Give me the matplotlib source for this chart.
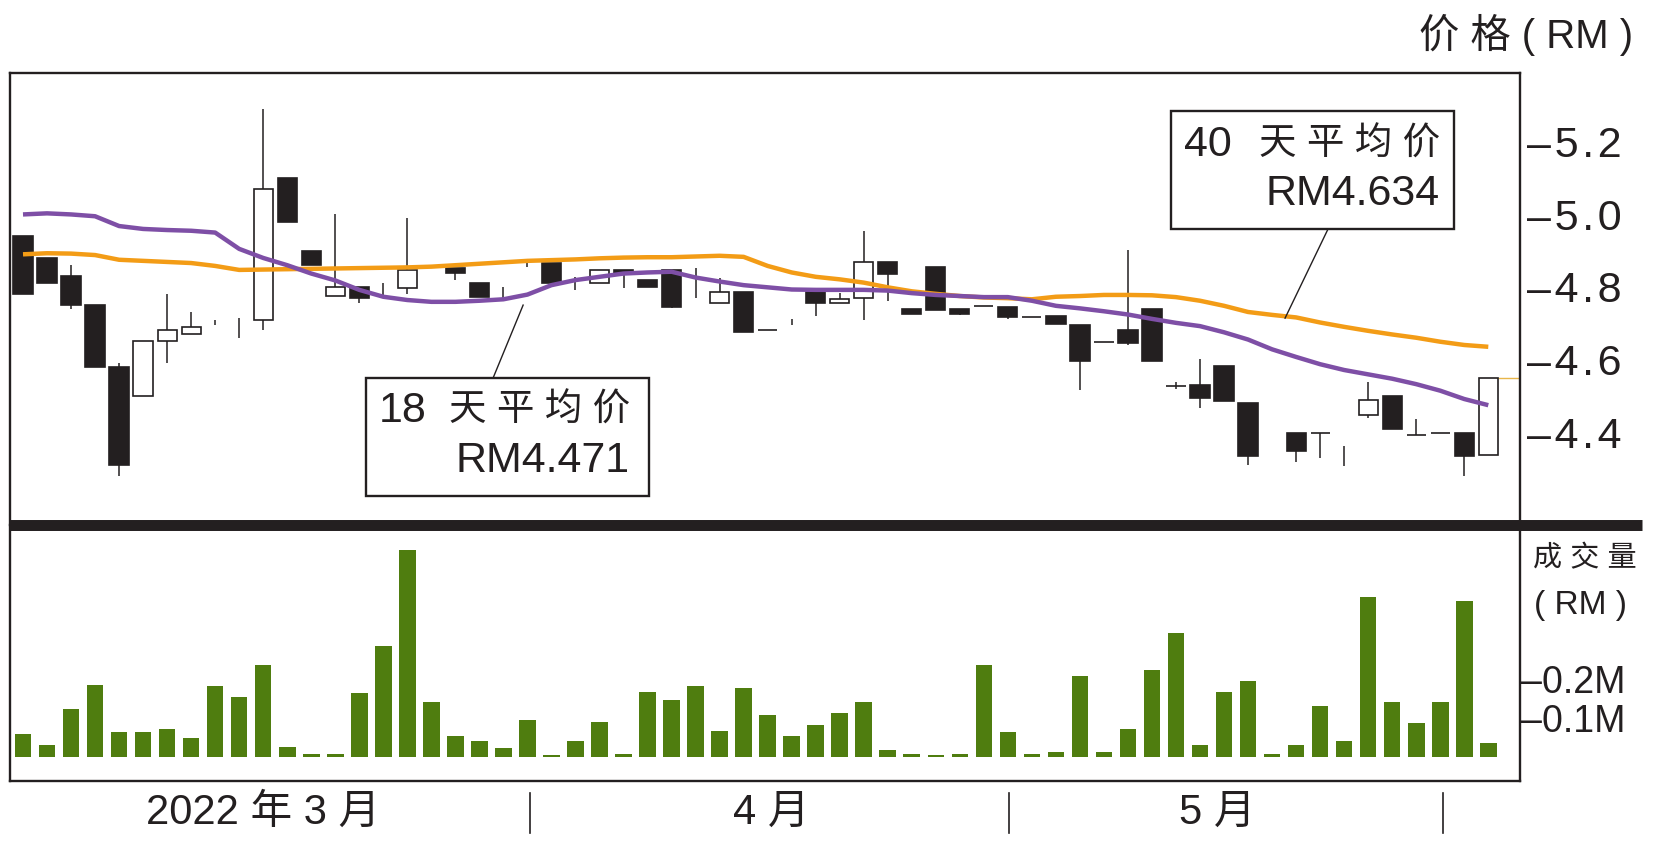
import matplotlib
matplotlib.use('Agg')
import matplotlib.pyplot as plt
import numpy as np
from matplotlib.patches import Rectangle
from matplotlib.lines import Line2D
from matplotlib.transforms import blended_transform_factory

# ---------------- data ----------------
nan = np.nan
# nan open/close with a high/low = only the wick is visible (doji)
opens = [4.94, 4.88, 4.83, 4.75, 4.58, 4.50, 4.65, 4.67, nan, nan,
         4.71, 5.10, 4.90, 4.775, 4.80, nan, 4.796, nan, 4.852, 4.812,
         nan, nan, 4.867, nan, 4.812, 4.848, 4.818, 4.848, nan, 4.756,
         4.786, 4.68, nan, 4.785, 4.756, 4.769, 4.869, 4.738, 4.854, 4.738,
         4.748, 4.746, 4.718, 4.720, 4.694, 4.649, 4.680, 4.738, 4.528, 4.530,
         4.582, 4.481, nan, 4.396, 4.396, nan, 4.447, 4.499, 4.392, 4.396,
         4.396, 4.337]
highs = [4.94, 4.88, 4.86, 4.75, 4.59, 4.65, 4.78, 4.73, 4.71, 4.715,
         5.29, 5.10, 4.90, 5.00, 4.80, 4.81, 4.99, nan, 4.852, 4.812,
         4.80, 4.87, 4.867, 4.828, 4.848, 4.848, 4.818, 4.848, 4.851, 4.824,
         4.786, 4.68, 4.711, 4.785, 4.783, 4.953, 4.869, 4.738, 4.854, 4.738,
         4.748, 4.746, 4.718, 4.720, 4.694, 4.649, 4.902, 4.738, 4.539, 4.600,
         4.582, 4.481, nan, 4.396, 4.396, 4.361, 4.539, 4.499, 4.435, 4.396,
         4.396, 4.548]
lows = [4.78, 4.81, 4.74, 4.58, 4.28, 4.50, 4.59, 4.67, 4.695, 4.66,
        4.68, 4.98, 4.86, 4.775, 4.757, 4.773, 4.78, nan, 4.818, 4.773,
        4.769, 4.855, 4.81, 4.792, 4.812, 4.796, 4.799, 4.741, 4.769, 4.756,
        4.677, 4.68, 4.695, 4.721, 4.756, 4.709, 4.76, 4.726, 4.736, 4.724,
        4.748, 4.711, 4.718, 4.698, 4.516, 4.649, 4.640, 4.597, 4.518, 4.465,
        4.486, 4.309, nan, 4.318, 4.327, 4.306, 4.438, 4.407, 4.392, 4.396,
        4.28, 4.337]
closes = [4.78, 4.81, 4.75, 4.58, 4.31, 4.65, 4.68, 4.69, nan, nan,
          5.07, 4.98, 4.86, 4.80, 4.77, nan, 4.847, nan, 4.838, 4.773,
          nan, nan, 4.81, nan, 4.848, 4.837, 4.80, 4.746, nan, 4.786,
          4.677, 4.68, nan, 4.756, 4.767, 4.869, 4.837, 4.726, 4.736, 4.726,
          4.748, 4.716, 4.718, 4.698, 4.597, 4.649, 4.646, 4.597, 4.528, 4.495,
          4.486, 4.334, nan, 4.348, 4.396, nan, 4.488, 4.407, 4.392, 4.396,
          4.334, 4.548]

ma18 = [5.00, 5.003, 5.00, 4.995, 4.968, 4.96, 4.957, 4.955, 4.95, 4.905,
        4.88, 4.86, 4.837, 4.818, 4.792, 4.773, 4.764, 4.759, 4.759, 4.762,
        4.766, 4.779, 4.805, 4.819, 4.828, 4.837, 4.84, 4.842, 4.826, 4.815,
        4.805, 4.799, 4.793, 4.792, 4.792, 4.792, 4.79, 4.783, 4.778, 4.775,
        4.772, 4.772, 4.762, 4.748, 4.741, 4.733, 4.724, 4.712, 4.701, 4.692,
        4.675, 4.655, 4.628, 4.607, 4.587, 4.571, 4.559, 4.547, 4.532, 4.514,
        4.491, 4.474]
ma40 = [4.890, 4.893, 4.892, 4.888, 4.875, 4.872, 4.869, 4.866, 4.858, 4.847,
        4.848, 4.849, 4.850, 4.851, 4.852, 4.853, 4.854, 4.856, 4.860, 4.864,
        4.868, 4.872, 4.874, 4.876, 4.879, 4.881, 4.882, 4.882, 4.884, 4.886,
        4.883, 4.858, 4.84, 4.828, 4.821, 4.812, 4.799, 4.788, 4.781, 4.775,
        4.771, 4.769, 4.766, 4.773, 4.775, 4.778, 4.778, 4.777, 4.772, 4.762,
        4.748, 4.731, 4.723, 4.716, 4.702, 4.69, 4.679, 4.669, 4.66, 4.649,
        4.64, 4.635]

volume_m = [0.058, 0.030, 0.123, 0.185, 0.063, 0.063, 0.071, 0.049, 0.181, 0.155,
            0.236, 0.026, 0.007, 0.007, 0.163, 0.286, 0.533, 0.142, 0.053, 0.040,
            0.022, 0.095, 0.004, 0.040, 0.090, 0.007, 0.167, 0.146, 0.181, 0.067,
            0.176, 0.107, 0.053, 0.082, 0.113, 0.142, 0.017, 0.007, 0.004, 0.007,
            0.236, 0.063, 0.007, 0.012, 0.208, 0.012, 0.071, 0.223, 0.318, 0.030,
            0.167, 0.195, 0.007, 0.030, 0.131, 0.040, 0.410, 0.142, 0.088, 0.142,
            0.400, 0.034]

price_ticks = [4.4, 4.6, 4.8, 5.0, 5.2]
price_tick_labels = ['4.4', '4.6', '4.8', '5.0', '5.2']
vol_ticks = [0.1, 0.2]
vol_tick_labels = ['0.1M', '0.2M']

month_labels = ['2022 年 3 月', '4 月', '5 月']
month_label_pos = [9.99, 31.16, 49.71]
month_sep_pos = [21.12, 41.06, 59.13]

ma18_days = '18'
ma40_days = '40'
ma_caption = '天 平 均 价'
ma18_value = 'RM4.471'
ma40_value = 'RM4.634'
price_title = '价 格 ( RM )'
vol_title = ['成 交 量', '( RM )']

# ---------------- style ----------------
INK = '#231f20'
ORANGE = '#f39c16'
PURPLE = '#7e4fa6'
GREEN = '#4f7d0f'
FONT = ['Liberation Sans', 'Noto Sans CJK SC', 'DejaVu Sans']
plt.rcParams['font.family'] = FONT
HS = '\u200a'  # hair space for slight letter spacing

def spaced(s):
    return HS.join(list(s))

W, H = 1655, 847
def fx(px):
    return px / W
def fy(py):
    return 1 - py / H

fig = plt.figure(figsize=(W / 100, H / 100), dpi=100)
fig.patch.set_facecolor('white')

ax = fig.add_axes([fx(10), fy(524.5), fx(1520) - fx(10), fy(73) - fy(524.5)])
axv = fig.add_axes([fx(10), fy(781), fx(1520) - fx(10), fy(524.5) - fy(781)])

xlim = (-0.541, 62.32)
n = len(closes)
x = np.arange(n)

# ---------------- candles ----------------
for i in range(n):
    o, h, l, c = opens[i], highs[i], lows[i], closes[i]
    if not np.isnan(h):
        ax.vlines(i, l, h, color=INK, lw=1.1, zorder=2)
    if np.isnan(o):
        continue
    up = c > o
    ax.add_patch(Rectangle((i - 0.4, min(o, c)), 0.8, abs(c - o),
                           facecolor='white' if up else INK,
                           edgecolor=INK, lw=1.2, zorder=2.5))

ax.plot(x, ma40, color=ORANGE, lw=3.2, zorder=3, solid_capstyle='butt')
ax.plot(x, ma18, color=PURPLE, lw=3.2, zorder=3.1, solid_capstyle='butt')
ax.hlines(closes[-1], n - 1 + 0.4, xlim[1], color='#e8b64a', lw=1.0, zorder=2)

ax.set_xlim(*xlim)
ax.set_ylim(4.145, 5.390)
ax.set_xticks([])
ax.yaxis.tick_right()
ax.set_yticks(price_ticks)
ax.set_yticklabels([spaced('–' + t) for t in price_tick_labels])
ax.tick_params(axis='y', length=0, pad=5, labelsize=31, labelcolor=INK)
for s in ['top', 'left', 'right']:
    ax.spines[s].set_color(INK)
    ax.spines[s].set_linewidth(1.7)
ax.spines['bottom'].set_visible(False)

# ---------------- annotation boxes ----------------
def label_box(x0, x1, y0, y1, days, days_right, value, text_right, y_lines, leader):
    ax.add_patch(Rectangle((x0, y0), x1 - x0, y1 - y0, facecolor='white',
                           edgecolor=INK, lw=1.7, zorder=5))
    ax.text(days_right, y_lines[0], days, ha='right', va='center', fontsize=31,
            color=INK, zorder=6)
    ax.text(text_right, y_lines[0], ma_caption, ha='right', va='center', fontsize=27,
            color=INK, zorder=6)
    ax.text(text_right, y_lines[1], value, ha='right', va='center', fontsize=31,
            color=INK, zorder=6)
    ax.plot(leader[0], leader[1], color=INK, lw=1.0, zorder=4)

label_box(47.78, 59.58, 4.960, 5.286, ma40_days, 50.33, ma40_value, 58.99,
          [5.192, 5.057], ([54.33, 52.54], [4.960, 4.714]))
label_box(14.28, 26.06, 4.223, 4.549, ma18_days, 16.82, ma18_value, 25.27,
          [4.458, 4.320], ([19.57, 20.82], [4.549, 4.750]))

# ---------------- volume ----------------
axv.bar(x, volume_m, width=0.69, color=GREEN, zorder=2)
axv.set_xlim(*xlim)
axv.set_ylim(-0.0626, 0.598)
axv.set_xticks([])
axv.yaxis.tick_right()
axv.set_yticks(vol_ticks)
axv.set_yticklabels(['–' + t for t in vol_tick_labels])
axv.tick_params(axis='y', length=0, pad=1, labelsize=27, labelcolor=INK)
for s in ['bottom', 'left', 'right']:
    axv.spines[s].set_color(INK)
    axv.spines[s].set_linewidth(1.7)
axv.spines['top'].set_visible(False)

# thick separator between panels
fig.add_artist(Line2D([fx(10), fx(1642)], [fy(524.5), fy(524.5)], lw=7.9,
                      color=INK, solid_capstyle='butt'))

# titles
fig.text(fx(1633), fy(35), price_title, ha='right', va='center', fontsize=29, color=INK)
fig.text(fx(1585), fy(558), vol_title[0], ha='center', va='center', fontsize=21, color=INK)
fig.text(fx(1581), fy(605), vol_title[1], ha='center', va='center', fontsize=24, color=INK)

# month labels along the bottom
tr = blended_transform_factory(axv.transData, fig.transFigure)
for lab, p in zip(month_labels, month_label_pos):
    axv.text(p, fy(813), lab, transform=tr, ha='center', va='center',
             fontsize=30, color=INK, clip_on=False)
for p in month_sep_pos:
    axv.add_line(Line2D([p, p], [fy(793), fy(833)], transform=tr, color=INK,
                        lw=1.2, clip_on=False))

fig.savefig('out.png', dpi=100, facecolor='white')
